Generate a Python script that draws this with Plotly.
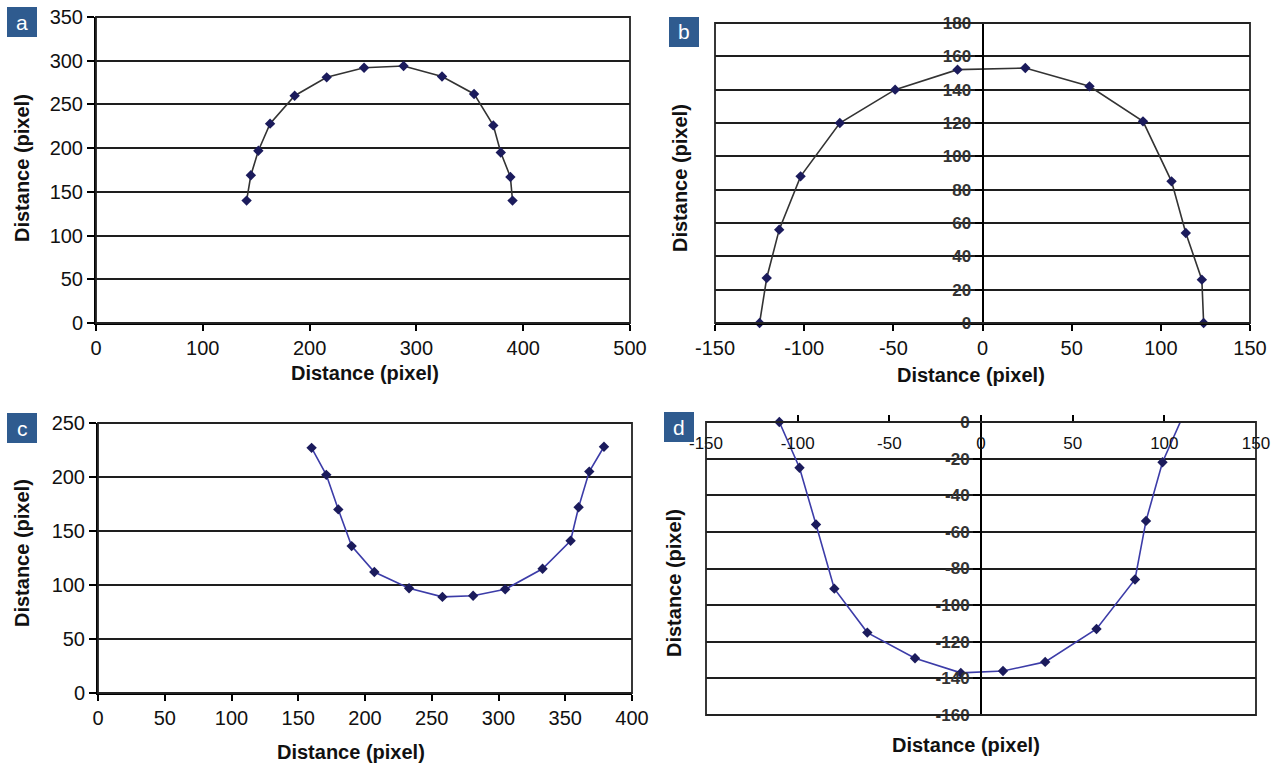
import plotly.graph_objects as go

# ---------------- data ----------------
a_x = [141, 145, 152, 163, 186, 216, 251, 288, 324, 354, 372, 379, 388, 390]
a_y = [140, 169, 197, 228, 260, 281, 292, 294, 282, 262, 226, 195, 167, 140]

b_x = [-125, -121, -114, -102, -80, -49, -14, 24, 60, 90, 106, 114, 123, 124]
b_y = [0, 27, 56, 88, 120, 140, 152, 153, 142, 121, 85, 54, 26, 0]

c_x = [160, 171, 180, 190, 207, 233, 258, 281, 305, 333, 354, 360, 368, 379]
c_y = [227, 202, 170, 136, 112, 97, 89, 90, 96, 115, 141, 172, 205, 228]

d_x = [-110, -99, -90, -80, -62, -36, -11, 12, 35, 63, 84, 90, 99, 114]
d_y = [0, -25, -56, -91, -115, -129, -137, -136, -131, -113, -86, -54, -22, 12]

a_xticks = [0, 100, 200, 300, 400, 500]
a_yticks = [0, 50, 100, 150, 200, 250, 300, 350]
b_xticks = [-150, -100, -50, 0, 50, 100, 150]
b_yticks = [0, 20, 40, 60, 80, 100, 120, 140, 160, 180]
c_xticks = [0, 50, 100, 150, 200, 250, 300, 350, 400]
c_yticks = [0, 50, 100, 150, 200, 250]
d_xticks = [-150, -100, -50, 0, 50, 100, 150]
d_yticks = [-160, -140, -120, -100, -80, -60, -40, -20, 0]

panel_letters = ["a", "b", "c", "d"]
axis_title = "Distance (pixel)"

# ---------------- layout helpers ----------------
W, H = 1282, 765


def xd(px0, px1):
    return [px0 / W, px1 / W]


def yd(top, bottom):
    return [1 - bottom / H, 1 - top / H]


def labels(vals):
    return [str(v) for v in vals]


boxes = {
    "a": (96, 630, 17, 323),
    "b": (715, 1250, 23, 323),
    "c": (98, 632, 423, 693),
    "d": (706, 1256, 422, 715),
}

DARK_LINE = "#333333"
BLUE_LINE = "#3c3ca8"
MARKER = "#1b1b5c"
GRID = "#1e1e1e"
FONT = "Liberation Sans, Arial, sans-serif"
NARROW = "Liberation Sans Narrow, Liberation Sans, Arial, sans-serif"

fig = go.Figure()


def add_series(xs, ys, xa, ya, line_color, marker_filter=None):
    fig.add_trace(go.Scatter(x=xs, y=ys, mode="lines", xaxis=xa, yaxis=ya,
                             line=dict(color=line_color, width=1.6),
                             showlegend=False, hoverinfo="skip"))
    pts = list(zip(xs, ys))
    if marker_filter is not None:
        pts = [p for p in pts if marker_filter(p)]
    fig.add_trace(go.Scatter(x=[p[0] for p in pts], y=[p[1] for p in pts],
                             mode="markers", xaxis=xa, yaxis=ya, cliponaxis=False,
                             marker=dict(symbol="diamond", size=8, color=MARKER),
                             showlegend=False))


add_series(a_x, a_y, "x", "y", DARK_LINE)
add_series(b_x, b_y, "x2", "y2", DARK_LINE)
add_series(c_x, c_y, "x3", "y3", BLUE_LINE)
add_series(d_x, d_y, "x4", "y4", BLUE_LINE, marker_filter=lambda p: p[1] <= 0)

tick_font = dict(family=FONT, size=20, color="#111111")
small_bold = dict(family=NARROW, size=17, color="#333333", weight=700)

common_x = dict(showgrid=False, zeroline=False, showline=True, linecolor="black",
                linewidth=2, ticks="outside", ticklen=6, tickcolor="black", tickwidth=1.5,
                automargin=False)
common_y = dict(showgrid=True, gridcolor=GRID, gridwidth=2, zeroline=False, showline=True,
                linecolor="black", linewidth=2, ticks="outside", ticklen=7,
                tickcolor="black", tickwidth=1.5, automargin=False)

ba, bb, bc, bd = boxes["a"], boxes["b"], boxes["c"], boxes["d"]

b_zero = (bb[0] + (0 - (-150)) / 300 * (bb[1] - bb[0])) / W
d_zero = (bd[0] + (0 - (-150)) / 300 * (bd[1] - bd[0])) / W

fig.update_layout(
    width=W, height=H, margin=dict(l=0, r=0, t=0, b=0, autoexpand=False),
    paper_bgcolor="white", plot_bgcolor="white", showlegend=False,
    xaxis=dict(domain=xd(ba[0], ba[1]), anchor="y", range=[0, 500],
               tickvals=a_xticks, ticktext=labels(a_xticks), tickfont=tick_font, **common_x),
    yaxis=dict(domain=yd(ba[2], ba[3]), anchor="x", range=[0, 350],
               tickvals=a_yticks, ticktext=labels(a_yticks), tickfont=tick_font, **common_y),
    xaxis2=dict(domain=xd(bb[0], bb[1]), anchor="y2", range=[-150, 150],
                tickvals=b_xticks, ticktext=labels(b_xticks), tickfont=tick_font, **common_x),
    yaxis2=dict(domain=yd(bb[2], bb[3]), anchor="free", position=b_zero, range=[0, 180],
                tickvals=b_yticks, ticktext=labels(b_yticks), tickfont=small_bold, **common_y),
    xaxis3=dict(domain=xd(bc[0], bc[1]), anchor="y3", range=[0, 400],
                tickvals=c_xticks, ticktext=labels(c_xticks), tickfont=tick_font, **common_x),
    yaxis3=dict(domain=yd(bc[2], bc[3]), anchor="x3", range=[0, 250],
                tickvals=c_yticks, ticktext=labels(c_yticks), tickfont=tick_font, **common_y),
    xaxis4=dict(domain=xd(bd[0], bd[1]), anchor="free", position=yd(bd[2], bd[3])[1],
                side="bottom", range=[-150, 150], tickvals=d_xticks, ticktext=labels(d_xticks),
                tickfont=dict(family=FONT, size=17, color="#111111"),
                showgrid=False, zeroline=False, showline=True, linecolor="black",
                linewidth=2, ticks="inside", ticklen=6, tickcolor="black", tickwidth=1.5,
                ticklabelstandoff=6, automargin=False),
    yaxis4=dict(domain=yd(bd[2], bd[3]), anchor="free", position=d_zero, range=[-160, 0],
                tickvals=d_yticks, ticktext=labels(d_yticks), tickfont=small_bold, **common_y),
)

# frames around each plot area
for xa, ya in [("x", "y"), ("x2", "y2"), ("x3", "y3"), ("x4", "y4")]:
    fig.add_shape(type="rect", xref=f"{xa} domain", yref=f"{ya} domain",
                  x0=0, x1=1, y0=0, y1=1, line=dict(color="#222222", width=1.8),
                  layer="above")

# panel letter boxes
letter_boxes = [(7, 7), (669, 17), (7, 413), (664, 412)]
for letter, (bx, by) in zip(panel_letters, letter_boxes):
    fig.add_shape(type="rect", xref="paper", yref="paper",
                  x0=bx / W, x1=(bx + 30) / W, y0=1 - (by + 30) / H, y1=1 - by / H,
                  fillcolor="#2f5b8f", line=dict(width=0), layer="below")
    fig.add_annotation(xref="paper", yref="paper", x=(bx + 15) / W, y=1 - (by + 15) / H,
                       xanchor="center", yanchor="middle",
                       text=letter, showarrow=False,
                       font=dict(family=FONT, size=21, color="white"))

# axis titles
title_font = dict(family=FONT, size=20, color="#111111", weight=700)
x_titles = [(365, 373), (971, 375), (351, 752), (966, 745)]
y_titles = [(22, 168), (680, 178), (22, 553), (674, 583)]
for (tx, ty) in x_titles:
    fig.add_annotation(xref="paper", yref="paper", x=tx / W, y=1 - ty / H,
                       xanchor="center", yanchor="middle",
                       text=axis_title, showarrow=False, font=title_font)
for (tx, ty) in y_titles:
    fig.add_annotation(xref="paper", yref="paper", x=tx / W, y=1 - ty / H,
                       xanchor="center", yanchor="middle",
                       text=axis_title, showarrow=False, font=title_font, textangle=-90)

fig.write_html("out.html", config={"displayModeBar": False},
               post_script="document.body.style.margin='0';")
